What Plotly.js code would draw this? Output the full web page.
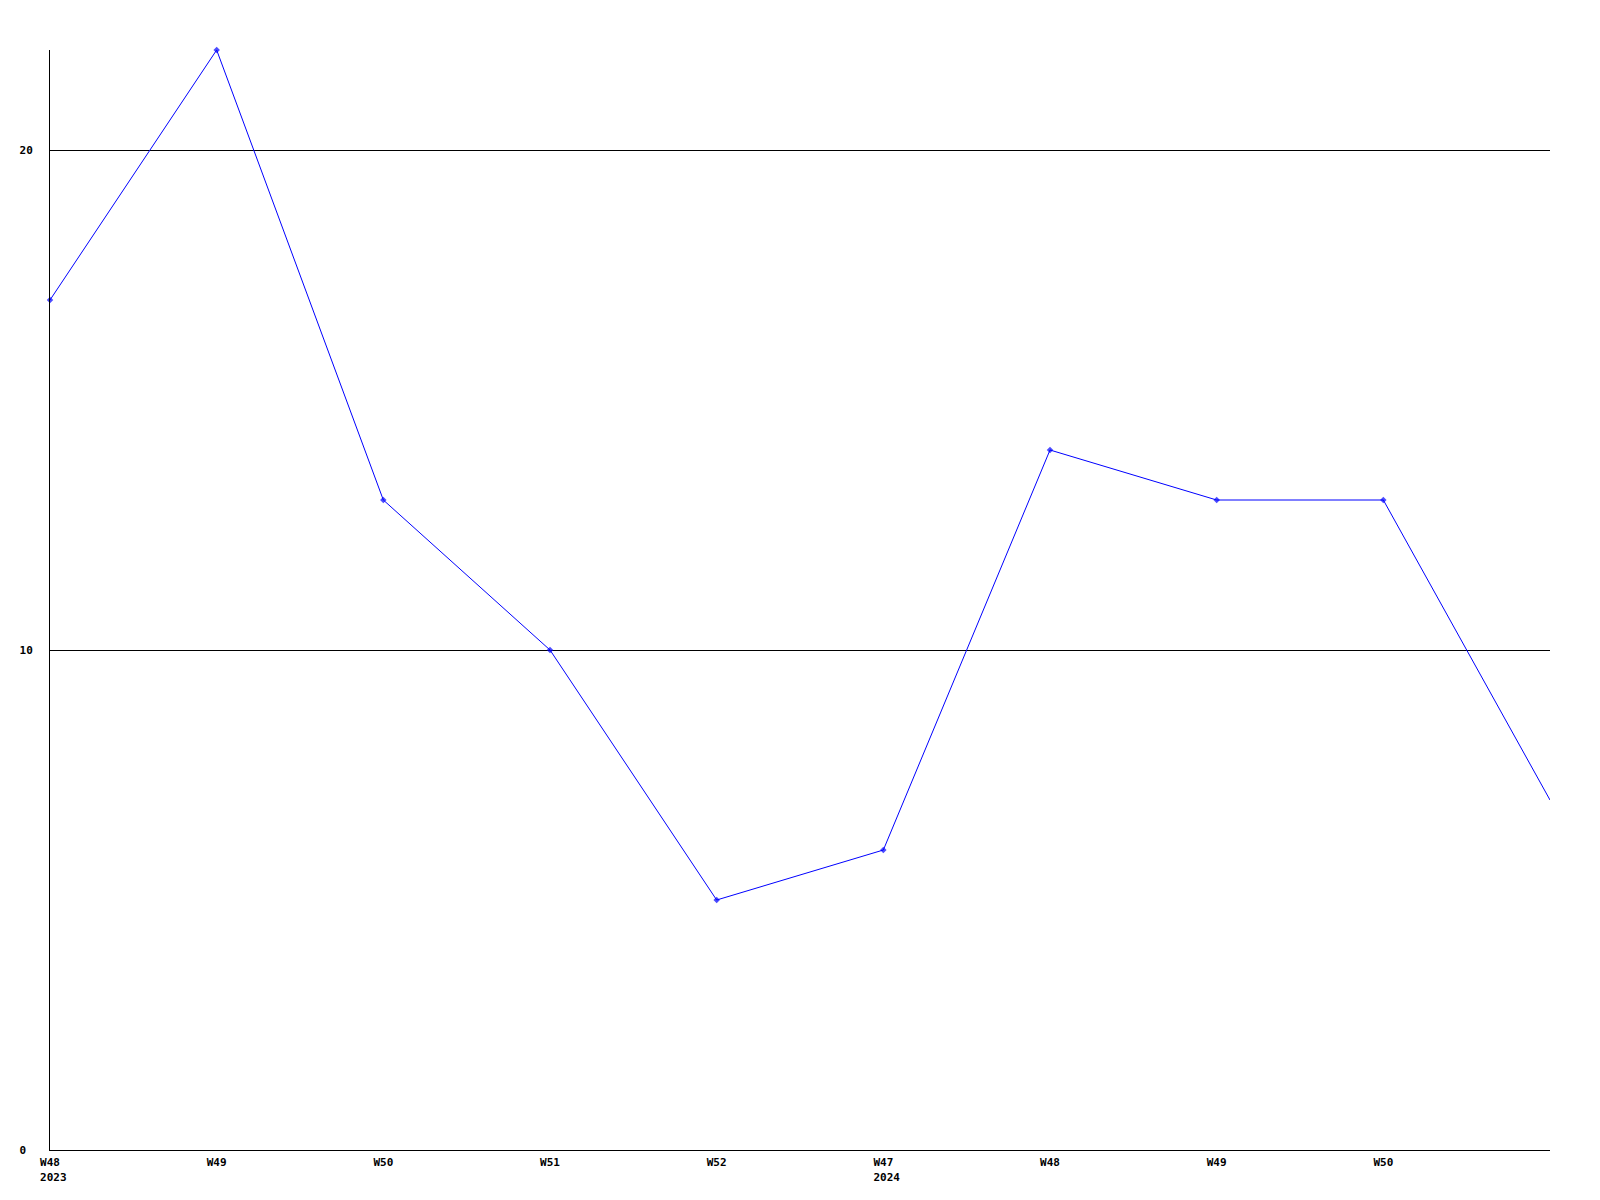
<!DOCTYPE html>
<html>
<head>
<meta charset="utf-8">
<script src="https://cdn.plot.ly/plotly-3.0.1.min.js"></script>
<style>html,body{margin:0;padding:0;background:#fff;}#chart{width:1600px;height:1200px;}</style>
</head>
<body>
<div id="chart"></div>
<script>
const weekLabels = ["W48<br>\u00a02023", "W49", "W50", "W51", "W52", "W47<br>\u00a02024", "W48", "W49", "W50", ""];
const values = [17, 22, 13, 10, 5, 6, 14, 13, 13, 7];
const yTickVals = [0, 10, 20];
const yTickText = ["0\u00a0", "10", "20"];

const xs = values.map((v, i) => i);
const markerSizes = values.map((v, i) => (i === values.length - 1 ? 0 : 5));

const trace = {
  x: xs,
  y: values,
  type: "scatter",
  mode: "lines+markers",
  line: { color: "#0000ff", width: 1 },
  marker: { color: "#0000ff", size: markerSizes, symbol: "diamond", line: { width: 0 } },
  cliponaxis: false,
  hoverinfo: "skip"
};

const tickFont = { family: "DejaVu Sans Mono, Liberation Mono, monospace", size: 11, color: "#000", weight: "bold" };

const layout = {
  width: 1600,
  height: 1200,
  margin: { l: 50, r: 50, t: 50, b: 50, pad: 0 },
  paper_bgcolor: "#fff",
  plot_bgcolor: "#fff",
  showlegend: false,
  xaxis: {
    range: [0, values.length - 1],
    tickmode: "array",
    tickvals: xs.slice(0, weekLabels.length - 1),
    ticktext: weekLabels.slice(0, weekLabels.length - 1),
    showgrid: false,
    zeroline: false,
    showline: true,
    linecolor: "#000",
    linewidth: 1,
    ticks: "",
    tickfont: tickFont,
    ticklabelstandoff: 2,
    fixedrange: true
  },
  yaxis: {
    range: [0, 22],
    tickmode: "array",
    tickvals: yTickVals,
    ticktext: yTickText,
    showgrid: true,
    gridcolor: "#000",
    gridwidth: 1,
    zeroline: false,
    showline: true,
    linecolor: "#000",
    linewidth: 1,
    ticks: "",
    tickfont: tickFont,
    ticklabelstandoff: 14,
    fixedrange: true
  }
};

Plotly.newPlot("chart", [trace], layout, { displayModeBar: false, staticPlot: true });
</script>
</body>
</html>
